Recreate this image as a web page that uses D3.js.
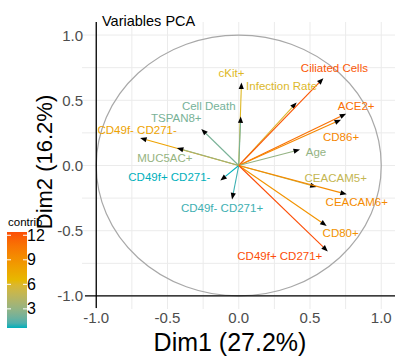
<!DOCTYPE html>
<html>
<head>
<meta charset="utf-8">
<script src="https://cdn.jsdelivr.net/npm/d3@7"></script>
<style>
  html, body { margin: 0; padding: 0; background: #fff; }
  svg { display: block; font-family: "Liberation Sans", Arial, sans-serif; }
</style>
</head>
<body>
<svg id="chart" width="395" height="356"></svg>
<script>
// Variable loadings on the first two principal components
const variables = ["cKit+", "Cell Death", "Infection Rate", "Ciliated Cells", "ACE2+", "CD86+", "Age",
  "TSPAN8+", "CD49f- CD271-", "MUC5AC+", "CD49f+ CD271-", "CD49f- CD271+",
  "CEACAM5+", "CEACAM6+", "CD80+", "CD49f+ CD271+"];
const dim1 = [0.019, 0.014, 0.406, 0.594, 0.754, 0.718, 0.430,
  -0.263, -0.692, -0.434, -0.129, -0.047,
  0.547, 0.758, 0.617, 0.625];
const dim2 = [0.636, 0.376, 0.483, 0.669, 0.397, 0.351, 0.122,
  0.280, 0.211, 0.135, -0.115, -0.260,
  -0.165, -0.221, -0.463, -0.659];
// Contribution (%) of each variable to Dim1-Dim2
const contrib = [6.1, 2.1, 6.0, 12.0, 10.9, 9.6, 3.0,
  2.2, 7.9, 3.1, 0.66, 1.05,
  4.9, 9.4, 8.9, 12.4];

const axisTicks = [-1.0, -0.5, 0.0, 0.5, 1.0];
const gridTicks = [-1.0, -0.75, -0.5, -0.25, 0, 0.25, 0.5, 0.75, 1.0];
const legendTicks = [3, 6, 9, 12];
const gradientColors = ["#00AFBB", "#E7B800", "#FC4E07"];

// Repelled label offsets (px) from each arrow tip
const labelNudge = [[-10, -10], [-32, -10], [-15, -16], [11, -10], [10, -8], [0, 17], [16, 2],
  [-25, -11], [-3, -8], [-12, 10], [-51, -4], [-10, 9],
  [19, -9], [10, 8], [14, 7], [-48, 5]];

const svg = d3.select("#chart");

const x = d3.scaleLinear().domain([-1.1, 1.1]).range([82, 395.5]);
const y = d3.scaleLinear().domain([-1.1, 1.1]).range([309, 22]);

const cExtent = d3.extent(contrib);
const color = d3.scaleLinear()
  .domain([cExtent[0], (cExtent[0] + cExtent[1]) / 2, cExtent[1]])
  .range(gradientColors)
  .interpolate(d3.interpolateLab);

// Grid
const grid = svg.append("g").attr("stroke", "#ebebeb").attr("stroke-width", 1);
gridTicks.forEach(t => {
  grid.append("line").attr("x1", x(t)).attr("x2", x(t)).attr("y1", y(1.1)).attr("y2", y(-1.1));
  grid.append("line").attr("y1", y(t)).attr("y2", y(t)).attr("x1", x(-1.1)).attr("x2", x(1.1));
});

// Correlation circle
svg.append("ellipse")
  .attr("cx", x(0)).attr("cy", y(0))
  .attr("rx", x(1) - x(0)).attr("ry", y(0) - y(1))
  .attr("fill", "none").attr("stroke", "#a8a8a8").attr("stroke-width", 1.2);

// Arrows
const arrows = svg.append("g");
variables.forEach((v, i) => {
  const x0 = x(0), y0 = y(0), x1 = x(dim1[i]), y1 = y(dim2[i]);
  const ang = Math.atan2(y1 - y0, x1 - x0);
  const L = 6.5, W = 2.6;
  const bx = x1 - L * Math.cos(ang), by = y1 - L * Math.sin(ang);
  arrows.append("line")
    .attr("x1", x0).attr("y1", y0).attr("x2", bx).attr("y2", by)
    .attr("stroke", color(contrib[i])).attr("stroke-width", 1.1);
  const pts = [
    [x1, y1],
    [bx + W * Math.sin(ang), by - W * Math.cos(ang)],
    [bx - W * Math.sin(ang), by + W * Math.cos(ang)]
  ];
  arrows.append("polygon").attr("points", pts.map(p => p.join(",")).join(" "))
    .attr("fill", "#000");
});

// Labels
svg.append("g").selectAll("text").data(variables).join("text")
  .attr("x", (d, i) => x(dim1[i]) + labelNudge[i][0])
  .attr("y", (d, i) => y(dim2[i]) + labelNudge[i][1])
  .attr("text-anchor", "middle").attr("dominant-baseline", "central")
  .attr("font-size", 11.5)
  .attr("fill", (d, i) => color(contrib[i]))
  .text(d => d);

// Axis lines
svg.append("line").attr("x1", x(-1)).attr("x2", x(-1)).attr("y1", y(1.1)).attr("y2", y(-1.1) - 1)
  .attr("stroke", "#000").attr("stroke-width", 1.3);
svg.append("line").attr("x1", x(-1.1) + 3).attr("x2", x(1.1)).attr("y1", y(-1)).attr("y2", y(-1))
  .attr("stroke", "#000").attr("stroke-width", 1.3);

// Tick labels
const fmt = d3.format(".1f");
svg.append("g").selectAll("text").data(axisTicks).join("text")
  .attr("x", d => x(d)).attr("y", 317)
  .attr("text-anchor", "middle").attr("dominant-baseline", "central")
  .attr("font-size", 15).attr("fill", "#4d4d4d")
  .text(d => fmt(d).replace("\u2212", "-"));
svg.append("g").selectAll("text").data(axisTicks).join("text")
  .attr("x", 83).attr("y", d => y(d))
  .attr("text-anchor", "end").attr("dominant-baseline", "central")
  .attr("font-size", 15).attr("fill", "#4d4d4d")
  .text(d => fmt(d).replace("\u2212", "-"));

// Axis titles
svg.append("text").attr("x", 230).attr("y", 351)
  .attr("text-anchor", "middle").attr("font-size", 25).attr("fill", "#000")
  .text("Dim1 (27.2%)");
svg.append("text").attr("transform", "translate(52,162) rotate(-90)")
  .attr("text-anchor", "middle").attr("font-size", 22).attr("fill", "#000")
  .text("Dim2 (16.2%)");

// Title
svg.append("text").attr("x", 102).attr("y", 25.5)
  .attr("font-size", 14.5).attr("fill", "#000").text("Variables PCA");

// Colour legend
const lg = svg.append("g");
const ly = d3.scaleLinear().domain(cExtent).range([328, 232]);
const defs = svg.append("defs");
const grad = defs.append("linearGradient").attr("id", "contribGrad")
  .attr("x1", 0).attr("x2", 0).attr("y1", 1).attr("y2", 0);
d3.range(0, 1.0001, 0.05).forEach(t => {
  grad.append("stop").attr("offset", t)
    .attr("stop-color", color(cExtent[0] + t * (cExtent[1] - cExtent[0])));
});
lg.append("text").attr("x", 8).attr("y", 226).attr("font-size", 11.5).attr("fill", "#000").text("contrib");
lg.append("rect").attr("x", 7).attr("y", ly(cExtent[1])).attr("width", 20)
  .attr("height", ly(cExtent[0]) - ly(cExtent[1])).attr("fill", "url(#contribGrad)");
legendTicks.forEach(t => {
  lg.append("line").attr("x1", 7).attr("x2", 11).attr("y1", ly(t)).attr("y2", ly(t))
    .attr("stroke", "#fff").attr("stroke-width", 1);
  lg.append("line").attr("x1", 23).attr("x2", 27).attr("y1", ly(t)).attr("y2", ly(t))
    .attr("stroke", "#fff").attr("stroke-width", 1);
  lg.append("text").attr("x", 27).attr("y", ly(t)).attr("dominant-baseline", "central")
    .attr("font-size", 16).attr("fill", "#000").text(t);
});
</script>
</body>
</html>
